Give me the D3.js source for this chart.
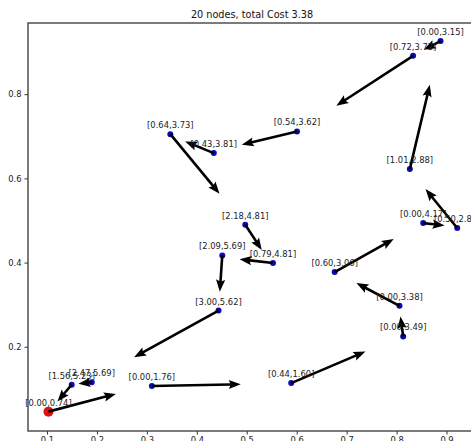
<!DOCTYPE html>
<html>
<head>
<meta charset="utf-8">
<script src="https://cdn.jsdelivr.net/npm/d3@7"></script>
<style>
  html, body { margin: 0; padding: 0; background: #fff; overflow: hidden; }
  svg { display: block; font-family: "DejaVu Sans", sans-serif; }
</style>
</head>
<body>
<svg id="chart" width="471" height="441"></svg>
<script>
// Node positions (x, y), the arrow tip for each node, and its [a,b] label.
const nodeX  = [0.103, 0.1495, 0.1896, 0.310, 0.4435, 0.451, 0.497, 0.5525, 0.347, 0.434,
                0.6006, 0.833, 0.888, 0.8265, 0.9214, 0.8533, 0.676, 0.8058, 0.8132, 0.589];
const nodeY  = [0.046, 0.110, 0.116, 0.107, 0.286, 0.417, 0.490, 0.399, 0.705, 0.660,
                0.7114, 0.891, 0.926, 0.622, 0.482, 0.4938, 0.3774, 0.2974, 0.2245, 0.1138];
const tipX   = [0.238, 0.121, 0.163, 0.488, 0.2744, 0.446, 0.530, 0.4856, 0.4455, 0.3767,
                0.490, 0.6794, 0.8545, 0.8665, 0.858, 0.896, 0.7943, 0.7196, 0.8078, 0.7376];
const tipY   = [0.088, 0.070, 0.112, 0.111, 0.175, 0.331, 0.430, 0.408, 0.5634, 0.6877,
                0.680, 0.7725, 0.9055, 0.8223, 0.5746, 0.488, 0.4558, 0.3513, 0.272, 0.1889];
const nodeLabels = ["[0.00,0.74]", "[1.56,5.23]", "[2.47,5.69]", "[0.00,1.76]", "[3.00,5.62]",
                    "[2.09,5.69]", "[2.18,4.81]", "[0.79,4.81]", "[0.64,3.73]", "[0.43,3.81]",
                    "[0.54,3.62]", "[0.72,3.72]", "[0.00,3.15]", "[1.01,2.88]", "[0.50,2.85]",
                    "[0.00,4.17]", "[0.60,3.06]", "[0.00,3.38]", "[0.00,3.49]", "[0.44,1.60]"];
const startNode = 0;

const xTicks = [0.1, 0.2, 0.3, 0.4, 0.5, 0.6, 0.7, 0.8, 0.9];
const yTicks = [0.2, 0.4, 0.6, 0.8];
const title = "20 nodes, total Cost 3.38";

const svg = d3.select("#chart");
const plot = { left: 28, right: 476, top: 23, bottom: 431 };

const x = d3.scaleLinear().domain([0.062, 0.959]).range([plot.left, plot.right]);
const y = d3.scaleLinear().domain([0.0, 0.969]).range([plot.bottom, plot.top]);

// Axes
const xAxis = d3.axisBottom(x).tickValues(xTicks).tickFormat(d3.format(".1f")).tickSize(3.5).tickPadding(3);
const yAxis = d3.axisLeft(y).tickValues(yTicks).tickFormat(d3.format(".1f")).tickSize(3.5).tickPadding(3);

const gx = svg.append("g").attr("transform", `translate(0,${plot.bottom})`).call(xAxis);
const gy = svg.append("g").attr("transform", `translate(${plot.left},0)`).call(yAxis);
[gx, gy].forEach(g => {
  g.select(".domain").remove();
  g.selectAll(".tick line").attr("stroke", "#333").attr("stroke-width", 1);
  g.selectAll(".tick text").attr("fill", "#222").attr("font-size", 8.4)
    .attr("font-family", "DejaVu Sans, sans-serif");
});

// Frame
svg.append("rect")
  .attr("x", plot.left).attr("y", plot.top)
  .attr("width", plot.right - plot.left).attr("height", plot.bottom - plot.top)
  .attr("fill", "none").attr("stroke", "#444").attr("stroke-width", 1.4);

// Title
svg.append("text")
  .attr("x", (plot.left + plot.right) / 2).attr("y", 18)
  .attr("text-anchor", "middle").attr("font-size", 9.7).attr("fill", "#111")
  .text(title);

const nodes = nodeX.map((nx, i) => ({
  x: nx, y: nodeY[i], tx: tipX[i], ty: tipY[i], label: nodeLabels[i], start: i === startNode
}));

// Quiver-style arrow polygon from node to tip (pixel space)
function arrowPath(d) {
  const x0 = x(d.x), y0 = y(d.y), x1 = x(d.tx), y1 = y(d.ty);
  const dx = x1 - x0, dy = y1 - y0;
  const L = Math.hypot(dx, dy);
  const ux = dx / L, uy = dy / L, px = -uy, py = ux;
  const w = 1.3, hl = 12, ha = 10.5, hw = 4.6;
  const pts = [[0, -w], [L - ha, -w], [L - hl, -hw], [L, 0], [L - hl, hw], [L - ha, w], [0, w]];
  return "M" + pts.map(([a, b]) => [x0 + ux * a + px * b, y0 + uy * a + py * b].map(v => v.toFixed(2)).join(",")).join("L") + "Z";
}

svg.append("g").selectAll("circle.node")
  .data(nodes)
  .join("circle")
  .attr("cx", d => x(d.x)).attr("cy", d => y(d.y))
  .attr("r", d => d.start ? 5 : 3)
  .attr("fill", d => d.start ? "#e01010" : "#0a0ab0");

svg.append("g").selectAll("path.arrow")
  .data(nodes)
  .join("path")
  .attr("d", arrowPath)
  .attr("fill", "#000");

svg.append("g").selectAll("text.label")
  .data(nodes)
  .join("text")
  .attr("x", d => x(d.x)).attr("y", d => y(d.y) - 6)
  .attr("text-anchor", "middle").attr("font-size", 8.4).attr("fill", "#222")
  .text(d => d.label);
</script>
</body>
</html>
